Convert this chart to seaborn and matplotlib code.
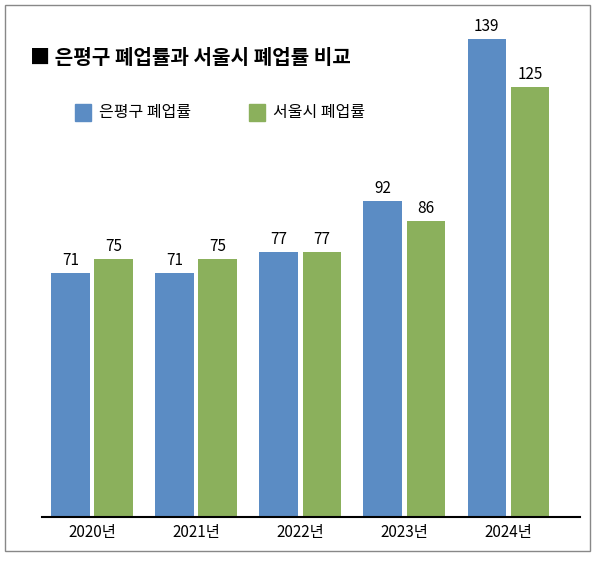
import matplotlib
matplotlib.use("Agg")
import matplotlib.pyplot as plt
import seaborn as sns
import pandas as pd
from matplotlib.patches import Rectangle
from matplotlib import font_manager

names = {f.name for f in font_manager.fontManager.ttflist}
cands = [n for n in ["Noto Sans CJK KR", "Noto Sans CJK JP", "Noto Sans CJK SC",
                     "Noto Sans CJK TC", "Noto Sans CJK"] if n in names]
plt.rcParams["font.family"] = cands + ["DejaVu Sans"]

years = ["2020년", "2021년", "2022년", "2023년", "2024년"]
series_names = ["은평구 폐업률", "서울시 폐업률"]
eunpyeong = [71, 71, 77, 92, 139]
seoul = [75, 75, 77, 86, 125]
colors = ["#5b8cc4", "#8bb05c"]

df = pd.DataFrame({
    "year": years * 2,
    "series": [series_names[0]] * 5 + [series_names[1]] * 5,
    "value": eunpyeong + seoul,
})

fig = plt.figure(figsize=(6.0, 5.63), dpi=100)
ax = fig.add_axes([0.07, 0.0817, 0.897, 0.882])
sns.barplot(data=df, x="year", y="value", hue="series", palette=colors,
            width=0.83, gap=0.11, ax=ax, legend=False, saturation=1)
for c in ax.containers:
    ax.bar_label(c, fontsize=11, padding=3)
ax.set_xlim(-0.48, 4.69)
ax.set_ylim(0, 144.5)
ax.set_yticks([])
ax.set_xlabel("")
ax.set_ylabel("")
for s in ["left", "right", "top"]:
    ax.spines[s].set_visible(False)
ax.spines["bottom"].set_linewidth(1.5)
ax.tick_params(axis="x", length=0, labelsize=11, pad=5)

fig.text(0.05, 0.897, "■ 은평구 폐업률과 서울시 폐업률 비교", fontsize=14.5,
         fontweight="bold", va="center")
for i, (name, col) in enumerate(zip(series_names, colors)):
    x0 = 0.125 + i * 0.29
    fig.patches.append(Rectangle((x0, 0.785), 0.027, 0.03, color=col,
                                 transform=fig.transFigure, figure=fig))
    fig.text(x0 + 0.04, 0.800, name, fontsize=11.5, va="center")

fig.patches.append(Rectangle((0.008, 0.022), 0.975, 0.97, fill=False,
                             edgecolor="#888888", linewidth=1,
                             transform=fig.transFigure, figure=fig))
fig.savefig("out.png", dpi=100)
